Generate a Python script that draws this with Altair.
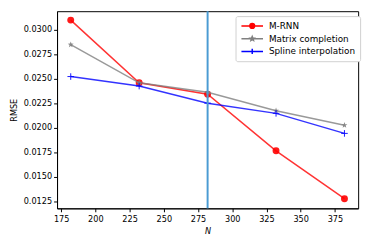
import math
import altair as alt
import pandas as pd

N = [182, 232, 282, 332, 382]
mrnn = [0.0310, 0.02459, 0.02342, 0.01764, 0.01275]
matrix = [0.02849, 0.02459, 0.02362, 0.02174, 0.02026]
spline = [0.02523, 0.02426, 0.02251, 0.02147, 0.01942]
series = ["M-RNN", "Matrix completion", "Spline interpolation"]
colors = ["#ff0000", "#808080", "#0000ff"]
vline_N = [282]
x_ticks = [175, 200, 225, 250, 275, 300, 325, 350, 375]
y_ticks = [0.0125, 0.0150, 0.0175, 0.0200, 0.0225, 0.0250, 0.0275, 0.0300]

rows = []
for name, vals in zip(series, [mrnn, matrix, spline]):
    for n, v in zip(N, vals):
        rows.append({"N": n, "RMSE": v, "series": name})
df = pd.DataFrame(rows)
vdf = pd.DataFrame({"N": vline_N})


def star_path(r_out, r_in):
    pts = []
    for i in range(10):
        r = r_out if i % 2 == 0 else r_in
        a = -math.pi / 2 + i * math.pi / 5
        pts.append(f"{r * math.cos(a):.3f},{r * math.sin(a):.3f}")
    return "M" + "L".join(pts) + "Z"


plot_star = star_path(1.0, 0.42)
plot_plus = "M-1,0H1M0,-1V1"
lr = 0.22
leg_circle = f"M-1,0H1M{lr},0A{lr},{lr},0,1,1,{-lr},0A{lr},{lr},0,1,1,{lr},0Z"
leg_star = "M-1,0H1" + star_path(0.2, 0.09)
leg_plus = f"M-1,0H1M0,{-0.25}V{0.25}"

xs = alt.Scale(domain=[172, 392], nice=False, zero=False)
ys = alt.Scale(domain=[0.01176, 0.03191], nice=False, zero=False)
xaxis = alt.Axis(values=x_ticks, title="N", titleFontStyle="italic", labelOverlap=False, labelPadding=3, titlePadding=4)
X = alt.X("N:Q", scale=xs, axis=xaxis)
Y = alt.Y("RMSE:Q", scale=ys, axis=alt.Axis(values=y_ticks, format=".4f", title="RMSE", labelOverlap=False, titlePadding=5))

layers = []
marker_defs = [("circle", True, 50), (plot_star, True, 40), (plot_plus, False, 45)]
for name, col, (shp, filled, sz) in zip(series, colors, marker_defs):
    sub = df[df.series == name]
    base = alt.Chart(sub)
    layers.append(base.mark_line(color=col, strokeWidth=1.5, opacity=0.8).encode(x=X, y=Y))
    if filled:
        layers.append(base.mark_point(shape=shp, filled=True, size=sz, color=col, opacity=0.9).encode(x=X, y=Y))
    else:
        layers.append(base.mark_point(shape=shp, filled=False, size=sz, color=col, strokeWidth=1, opacity=0.9).encode(x=X, y=Y))

vline = alt.Chart(vdf).mark_rule(color="#4a9bd3", strokeWidth=2).encode(x=X)
layers.append(vline)

sdom = alt.Scale(domain=series, range=colors)
legend = alt.Legend(
    title=None, orient="none", legendX=182, legendY=5,
    symbolOpacity=1, symbolSize=484, symbolStrokeWidth=1.5,
    labelFontSize=9, labelFont="DejaVu Sans", labelColor="black", labelOffset=5,
    rowPadding=3, padding=5, fillColor="white", strokeColor="#d0d0d0",
    cornerRadius=2, offset=0, clipHeight=10,
)
leg_layer = alt.Chart(df).mark_point(filled=True, opacity=0, strokeWidth=1.5).encode(
    x=X, y=Y,
    fill=alt.Fill("series:N", scale=sdom, legend=legend),
    stroke=alt.Stroke("series:N", scale=sdom, legend=legend),
    shape=alt.Shape("series:N", scale=alt.Scale(domain=series, range=[leg_circle, leg_star, leg_plus]), legend=legend),
)
layers.append(leg_layer)

chart = alt.layer(*layers).properties(
    width=307, height=201,
    autosize=alt.AutoSizeParams(type="none"),
    padding={"left": 50, "top": 1, "right": 8, "bottom": 30},
).configure_view(stroke="black", strokeWidth=1).configure_axis(
    grid=False, domainColor="black", tickColor="black", tickSize=3.5,
    labelFont="DejaVu Sans", labelFontSize=8.3, labelColor="black",
    titleFont="DejaVu Sans", titleFontSize=8.3, titleFontWeight="normal", titleColor="black",
    labelPadding=2, labelOverlap=False,
)

chart.save("out.html", embed_options={"renderer": "svg", "actions": False})
